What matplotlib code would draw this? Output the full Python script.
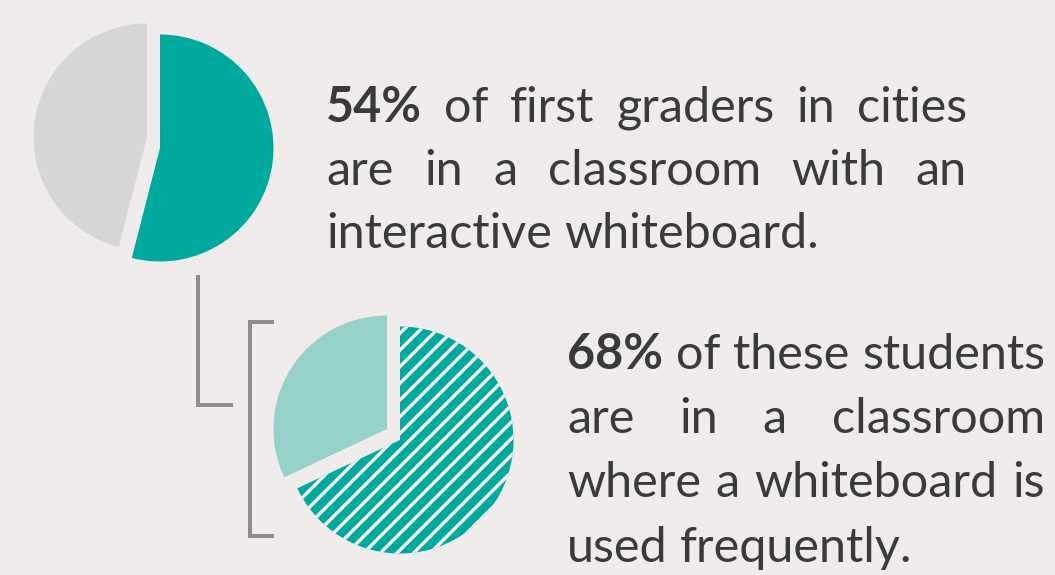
import matplotlib as mpl
import matplotlib.pyplot as plt

# ---- data -------------------------------------------------------------
CITY_SHARE = [54, 46]          # first graders in cities: with / without whiteboard
FREQ_SHARE = [68, 32]          # of those: used frequently / not

BLOCK1 = [
    ["54%", "of", "first", "graders", "in", "cities"],
    ["are", "in", "a", "classroom", "with", "an"],
    ["interactive", "whiteboard."],
]
BLOCK2 = [
    ["68%", "of", "these", "students"],
    ["are", "in", "a", "classroom"],
    ["where", "a", "whiteboard", "is"],
    ["used", "frequently."],
]

# ---- style ------------------------------------------------------------
BG = "#efeceb"
TEAL = "#00a99d"
GREY = "#d6d6d5"
LIGHT_TEAL = "#96d1cc"
BRACKET = "#8e8c8c"
TEXT = "#3a3a3a"
FONT = ["Lato", "DejaVu Sans"]

W, H, DPI = 1055, 575, 150
mpl.rcParams["hatch.linewidth"] = 1.6

fig = plt.figure(figsize=(W / DPI, H / DPI), dpi=DPI, facecolor=BG)
ax = fig.add_axes([0, 0, 1, 1])
ax.set_facecolor(BG)


def Y(y):
    # picture rows run downward, axes run upward
    return H - y


R = 113.5

# top pie: main slice at one centre, remainder nudged up-left
w1, _ = ax.pie(CITY_SHARE, colors=[TEAL, GREY], startangle=90, counterclock=False,
               center=(160, Y(148)), radius=R, wedgeprops=dict(linewidth=0))
w1[1].set_center((147, Y(137)))

# bottom pie: hatched main slice
w2, _ = ax.pie(FREQ_SHARE, colors=[TEAL, LIGHT_TEAL], startangle=90, counterclock=False,
               center=(400, Y(440)), radius=R, wedgeprops=dict(linewidth=0))
w2[0].set_edgecolor("white")
w2[0].set_linewidth(0)
w2[0].set_hatch("///")
w2[1].set_center((387, Y(429)))

# connector and bracket
lw = 4 * 72 / DPI
ax.plot([198, 198, 233], [Y(275), Y(405), Y(405)], color=BRACKET, lw=lw,
        solid_capstyle="butt", solid_joinstyle="miter")
ax.plot([274, 250, 250, 274], [Y(322), Y(322), Y(536), Y(536)], color=BRACKET, lw=lw,
        solid_capstyle="butt", solid_joinstyle="miter")

ax.set_xlim(0, W)
ax.set_ylim(0, H)
ax.set_aspect("equal")
ax.axis("off")

renderer = fig.canvas.get_renderer()


def word_width(word, size, bold):
    t = ax.text(0, 0, word, fontsize=size, family=FONT,
                fontweight="bold" if bold else "normal")
    w = t.get_window_extent(renderer).width
    t.remove()
    return w


def natural_width(words, size):
    space = word_width("x x", size, False) - word_width("xx", size, False)
    ws = [word_width(w, size, "%" in w) for w in words]
    return sum(ws) + space * (len(words) - 1)


def fit_size(lines, width):
    base = 20
    return min(base * width / natural_width(l, base) for l in lines[:-1])


def draw_block(lines, x0, x1, baselines, size):
    space = word_width("x x", size, False) - word_width("xx", size, False)
    for i, (words, yb) in enumerate(zip(lines, baselines)):
        ws = [word_width(w, size, "%" in w) for w in words]
        last = i == len(lines) - 1
        gap = space if last else (x1 - x0 - sum(ws)) / (len(words) - 1)
        x = x0
        for w, wd in zip(words, ws):
            ax.text(x, Y(yb), w, fontsize=size, family=FONT, color=TEXT,
                    fontweight="bold" if "%" in w else "normal",
                    ha="left", va="baseline")
            x += wd + gap


s1 = fit_size(BLOCK1, 967 - 326)
s2 = fit_size(BLOCK2, 1045 - 567)
size = min(s1, s2)
draw_block(BLOCK1, 326, 967, [122, 185, 248], size)
draw_block(BLOCK2, 567, 1045, [369, 433, 497, 562], size)

fig.savefig("out.png", dpi=DPI, facecolor=BG)
